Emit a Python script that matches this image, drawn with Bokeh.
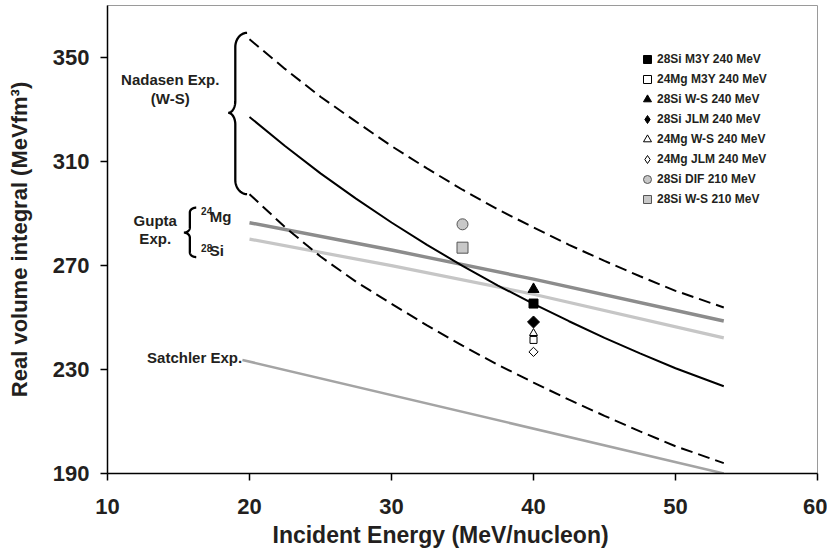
import numpy as np
from bokeh.plotting import figure
from bokeh.models import Range1d, FixedTicker, Label, Legend, LegendItem, Title
from bokeh.embed import file_html
from bokeh.resources import INLINE

# ---------------- data ----------------
nadasen_energy = [20, 22.5, 25, 27.5, 30, 32.5, 35, 37.5, 40, 42.5, 45, 47.5, 50, 53.4]
nadasen_mean = [327.2, 316.0, 305.5, 295.8, 286.6, 278.0, 269.9, 262.3, 255.3,
                248.6, 242.2, 236.2, 230.5, 223.6]
nadasen_upper = [357.1, 345.7, 335.0, 325.4, 316.0, 307.4, 299.2, 291.6, 284.7,
                 278.0, 271.8, 265.9, 260.3, 253.9]
nadasen_lower = [297.5, 284.8, 273.5, 263.8, 255.3, 247.0, 239.2, 231.8, 225.0,
                 218.4, 212.2, 206.2, 200.5, 194.0]

gupta_energy = [20, 30, 40, 53.4]
gupta_mg24 = [286.5, 276.0, 264.8, 248.7]
gupta_si28 = [280.2, 270.0, 259.0, 242.2]

satchler_energy = [19.5, 53.4]
satchler_values = [233.7, 190.0]

energy_240 = [40]
energy_210 = [35]
si28_m3y_240 = [255.4]
mg24_m3y_240 = [241.4]
si28_ws_240 = [260.9]
si28_jlm_240 = [248.3]
mg24_ws_240 = [244.0]
mg24_jlm_240 = [236.8]
si28_dif_210 = [285.9]
si28_ws_210 = [276.9]

x_ticks = [10, 20, 30, 40, 50, 60]
y_ticks = [190, 230, 270, 310, 350]
x_title = "Incident Energy (MeV/nucleon)"
y_title = "Real volume integral (MeVfm³)"

FONT = "Liberation Sans"
TXT = "#231f20"

p = figure(width=827, height=556, output_backend="svg", toolbar_location=None,
           x_range=Range1d(10, 60), y_range=Range1d(190, 370.1),
           min_border_left=107, min_border_right=10, min_border_top=5,
           min_border_bottom=83)
p.background_fill_color = "white"
p.border_fill_color = "white"
p.outline_line_color = "#9a9a9a"
p.outline_line_width = 1
p.xgrid.visible = False
p.ygrid.visible = False

p.xaxis.ticker = FixedTicker(ticks=x_ticks)
p.yaxis.ticker = FixedTicker(ticks=y_ticks)
for ax in (p.xaxis[0], p.yaxis[0]):
    ax.axis_line_color = "black"
    ax.axis_line_width = 1.5
    ax.major_tick_line_color = "black"
    ax.major_tick_line_width = 1.5
    ax.major_tick_out = 7
    ax.major_tick_in = 0
    ax.minor_tick_line_color = None
    ax.major_label_text_font = FONT
    ax.major_label_text_font_style = "bold"
    ax.major_label_text_font_size = "22px"
    ax.major_label_text_color = TXT
    ax.axis_label_text_font = FONT
    ax.axis_label_text_font_style = "bold"
    ax.axis_label_text_color = TXT

p.yaxis.axis_label = y_title
p.yaxis.axis_label_text_font_size = "22px"
p.xaxis.major_label_standoff = 18
p.yaxis.major_label_standoff = 11
p.yaxis.axis_label_standoff = 18

# x-axis title (sits a little left of the frame centre in the reference)
p.add_layout(Title(text=x_title, align="left", offset=165, standoff=6,
                   text_font=FONT, text_font_style="bold",
                   text_font_size="23px", text_color=TXT), "below")

# ---------------- lines ----------------
p.line(satchler_energy, satchler_values, line_color="#a4a4a4", line_width=2.5)
p.line(gupta_energy, gupta_si28, line_color="#c6c6c6", line_width=3.2)
p.line(gupta_energy, gupta_mg24, line_color="#8c8c8c", line_width=3.4)
p.line(nadasen_energy, nadasen_upper, line_color="black", line_width=2, line_dash="12 6")
p.line(nadasen_energy, nadasen_lower, line_color="black", line_width=2, line_dash="12 6")
p.line(nadasen_energy, nadasen_mean, line_color="black", line_width=2)

# ---------------- markers ----------------
r1 = p.scatter(energy_240, si28_m3y_240, marker="square", size=9,
               fill_color="black", line_color="black")
r2 = p.scatter(energy_240, mg24_m3y_240, marker="square", size=7,
               fill_color="white", line_color="black", line_width=1)
r3 = p.scatter(energy_240, si28_ws_240, marker="triangle", size=11,
               fill_color="black", line_color="black")
# diamond glyphs (used for the legend keys), covered by the rotated squares
r4 = p.scatter(energy_240, si28_jlm_240, marker="diamond", size=8,
               fill_color="black", line_color="black")
p.scatter(energy_240, si28_jlm_240, marker="square", angle=np.pi / 4, size=8.5,
          fill_color="black", line_color="black")
r5 = p.scatter(energy_240, mg24_ws_240, marker="triangle", size=8,
               fill_color="white", line_color="black", line_width=1)
r6 = p.scatter(energy_240, mg24_jlm_240, marker="diamond", size=6,
               fill_color="white", line_color="black", line_width=1)
p.scatter(energy_240, mg24_jlm_240, marker="square", angle=np.pi / 4, size=6.5,
          fill_color="white", line_color="black", line_width=1)
r7 = p.scatter(energy_210, si28_dif_210, marker="circle", size=11,
               fill_color="#c8c8c8", line_color="#555555", line_width=1)
r8 = p.scatter(energy_210, si28_ws_210, marker="square", size=11,
               fill_color="#c8c8c8", line_color="#555555", line_width=1)

legend = Legend(items=[
    LegendItem(label="28Si M3Y 240 MeV", renderers=[r1]),
    LegendItem(label="24Mg M3Y 240 MeV", renderers=[r2]),
    LegendItem(label="28Si W-S 240 MeV", renderers=[r3]),
    LegendItem(label="28Si JLM 240 MeV", renderers=[r4]),
    LegendItem(label="24Mg W-S 240 MeV", renderers=[r5]),
    LegendItem(label="24Mg JLM 240 MeV", renderers=[r6]),
    LegendItem(label="28Si DIF 210 MeV", renderers=[r7]),
    LegendItem(label="28Si W-S 210 MeV", renderers=[r8]),
], location=(530, 264), glyph_width=20, glyph_height=20, label_height=20,
   spacing=0, label_standoff=0, padding=0, margin=0,
   border_line_alpha=0, background_fill_alpha=0,
   label_text_font=FONT, label_text_font_style="bold",
   label_text_font_size="12px", label_text_color=TXT)
p.add_layout(legend)


# ---------------- braces & annotations ----------------
def brace(x_end, x_v, x_tip, y_top, y_mid, y_bot, ry_end, ry_tip, n=24):
    a = np.linspace(np.pi / 2, np.pi, n)
    xs1 = x_end + (x_end - x_v) * np.cos(a)
    ys1 = (y_top - ry_end) + ry_end * np.sin(a)
    b = np.linspace(0, -np.pi / 2, n)
    xs2 = x_tip + (x_v - x_tip) * np.cos(b)
    ys2 = (y_mid + ry_tip) + ry_tip * np.sin(b)
    c = np.linspace(np.pi / 2, 0, n)
    xs3 = x_tip + (x_v - x_tip) * np.cos(c)
    ys3 = (y_mid - ry_tip) + ry_tip * np.sin(c)
    d = np.linspace(np.pi, 1.5 * np.pi, n)
    xs4 = x_end + (x_end - x_v) * np.cos(d)
    ys4 = (y_bot + ry_end) + ry_end * np.sin(d)
    return (np.concatenate([xs1, xs2, xs3, xs4]),
            np.concatenate([ys1, ys2, ys3, ys4]))


bx, by = brace(19.83, 19.0, 18.5, 359.6, 328.8, 297.5, 5.5, 4.5)
p.line(bx, by, line_color="black", line_width=2.3)
sx, sy = brace(16.25, 15.8, 15.38, 292.3, 282.7, 273.3, 1.8, 2.0)
p.line(sx, sy, line_color="black", line_width=2.3)


def lab(x, y, text, size="15px", align="center"):
    p.add_layout(Label(x=x, y=y, text=text, text_align=align,
                       text_baseline="middle", text_font=FONT,
                       text_font_style="bold", text_font_size=size,
                       text_color=TXT))


lab(14.42, 341.7, "Nadasen Exp.")
lab(14.42, 334.4, "(W-S)")
lab(13.36, 287.2, "Gupta")
lab(13.36, 280.5, "Exp.")
lab(16.59, 291.0, "24", size="10px", align="left")
lab(17.2, 288.9, "Mg", align="left")
lab(16.59, 276.8, "28", size="10px", align="left")
lab(17.2, 275.9, "Si", align="left")
lab(19.48, 234.6, "Satchler Exp.", align="right")

open("out.html", "w").write(file_html(p, INLINE))
